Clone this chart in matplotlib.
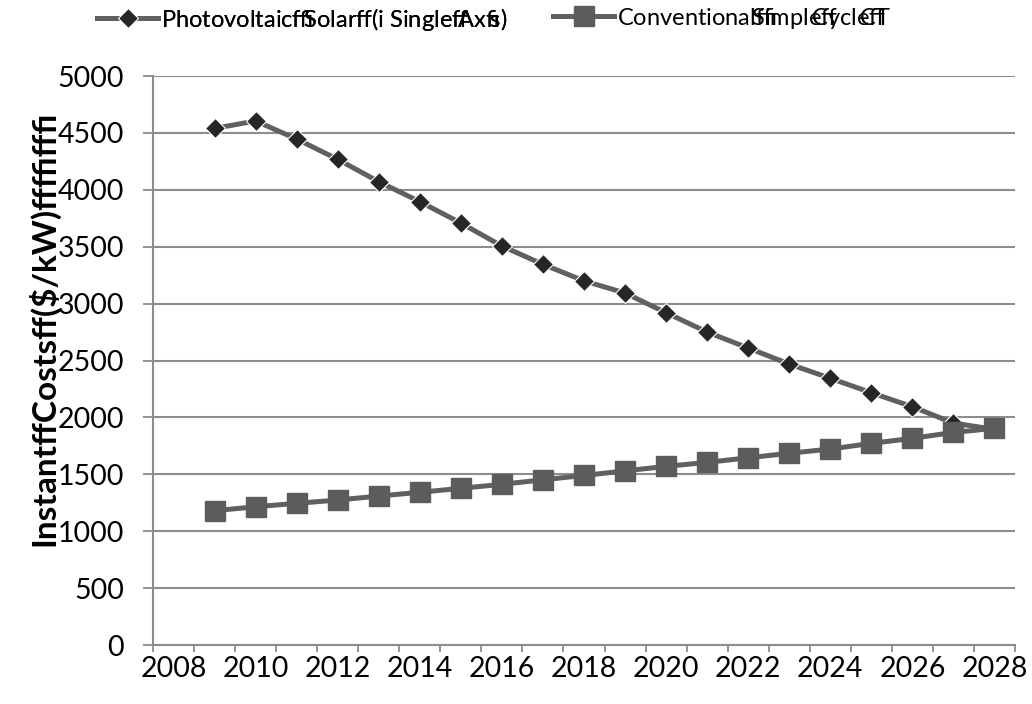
import matplotlib
matplotlib.use('Agg')
import matplotlib.pyplot as plt
from matplotlib.ticker import MultipleLocator, FixedLocator

years = list(range(2009, 2029))
pv_solar = [4540, 4605, 4446, 4268, 4071, 3896, 3708, 3506, 3345, 3200, 3093,
            2920, 2750, 2610, 2469, 2344, 2217, 2094, 1950, 1895]
conv_ct = [1180, 1215, 1245, 1274, 1309, 1342, 1377, 1412, 1452, 1490, 1530,
           1570, 1605, 1645, 1685, 1722, 1772, 1816, 1868, 1904]
xtick_years = list(range(2008, 2029, 2))

# garbled glyphs overlap the next letter, like in the source pdf
b3 = r'$\!\!\!$'
b8 = r'$\!\!\!\!\!\!\!\!$'
pv_label = 'Photovoltaic\ufb03' + b3 + 'Solar\ufb00(i Single\ufb00' + b3 + 'Ax\ufb01' + b3 + 's)'
ct_label = 'Conventional\ufb03' + b8 + 'Simple\ufb00' + b8 + 'Cycle\ufb00' + b8 + 'CT'
ylabel = 'Instant\ufb00Costs\ufb00($/kW)\ufb00\ufb03\ufb00\ufb01'

plt.rcParams['font.family'] = ['Lato', 'DejaVu Sans']
plt.rcParams['mathtext.fontset'] = 'custom'
plt.rcParams['mathtext.rm'] = 'Lato'
plt.rcParams['mathtext.it'] = 'Lato:italic'
plt.rcParams['mathtext.bf'] = 'Lato:bold'

fig = plt.figure(figsize=(10.32, 7.04), dpi=100)
ax = fig.add_axes([0.1483, 0.0838, 0.8352, 0.8082])

grid_c = '#8c8c8c'
line_c = '#606060'

l1, = ax.plot(years, pv_solar, color=line_c, lw=3.6, marker='D', ms=10.5,
              mfc='#262626', mec='white', mew=0.8, zorder=3)
l2, = ax.plot(years, conv_ct, color=line_c, lw=3.6, marker='s', ms=14,
              mfc='#5c5c5c', mec='#5c5c5c', zorder=4)

ax.set_xlim(2007.5, 2028.5)
ax.set_ylim(0, 5000)
ax.yaxis.set_major_locator(MultipleLocator(500))
ax.set_xticks(xtick_years)
ax.xaxis.set_minor_locator(FixedLocator([y - 0.5 for y in range(2008, 2030)]))
ax.tick_params(axis='x', which='major', length=0, pad=8, labelsize=20.5)
ax.tick_params(axis='x', which='minor', length=5, width=1.3, color=grid_c)
ax.tick_params(axis='y', length=7, width=1.3, color=grid_c, labelsize=20.5, pad=14)

ax.grid(axis='y', color=grid_c, lw=1.5)
ax.set_axisbelow(True)
for side in ['top', 'right']:
    ax.spines[side].set_visible(False)
for side in ['left', 'bottom']:
    ax.spines[side].set_color(grid_c)
    ax.spines[side].set_linewidth(1.5)

fig.text(0.042, 0.533, ylabel, rotation=90, ha='center', va='center',
         fontsize=24, fontweight='bold')

leg_kw = dict(loc='upper left', frameon=False, fontsize=17, handlelength=2.6,
              handletextpad=0.1, borderpad=0, borderaxespad=0)
leg1 = fig.legend([l1], [pv_label], bbox_to_anchor=(97 / 1032, 0.992), **leg_kw)
fig.add_artist(leg1)
fig.legend([l2], [ct_label], bbox_to_anchor=(553 / 1032, 0.992), **leg_kw)

fig.savefig('out.png', dpi=100)
